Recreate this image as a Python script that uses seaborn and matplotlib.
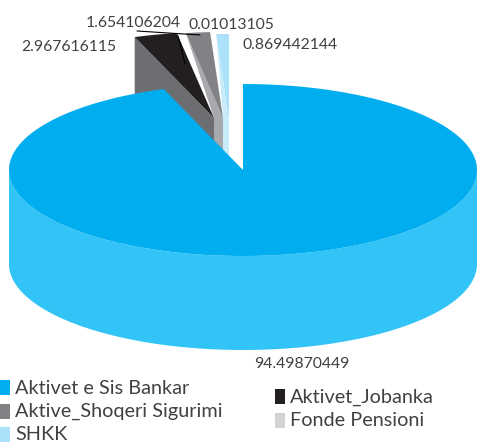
import numpy as np
import matplotlib.pyplot as plt
from matplotlib.patches import Polygon
import seaborn as sns

# Vlerat e grafikut
names = ["Aktivet e Sis Bankar", "Aktivet_Jobanka", "Aktive_Shoqeri Sigurimi", "Fonde Pensioni", "SHKK"]
values = [94.49870449, 2.967616115, 1.654106204, 0.01013105, 0.869442144]
value_labels = ["94.49870449", "2.967616115", "1.654106204", "0.01013105", "0.869442144"]

top_colors = ["#00aeef", "#231f20", "#808285", "#d1d3d4", "#abe1fa"]
wall_colors = ["#33c4f7", "#6d6e71", "#a7a9ac", "#a7a9ac", "#c9ecfb"]

# Gjeometria e pies 3D
cx, cy = 243, 170
rx, ry = 234, 86
depth = 94
offsets = [(0, 0), (-29, -52), (-20, -52), (-20, -52), (-14, -50)]

sns.set_theme(style="white")
plt.rcParams["font.family"] = ["Lato", "DejaVu Sans"]

fig, ax = plt.subplots(figsize=(4.78, 4.43), dpi=100)
ax.set_position([0, 0, 1, 1])
ax.set_xlim(0, 478)
ax.set_ylim(443, 0)
ax.axis("off")


def arc(a0, a1, dx=0, dy=0):
    # kendet ne grade, 0 = ora 12, ne drejtim te akrepave
    t = np.radians(np.linspace(a0, a1, max(int(abs(a1 - a0) * 2), 2)))
    return np.column_stack([cx + dx + rx * np.sin(t), cy + dy - ry * np.cos(t)])


edges = np.concatenate([[0], np.cumsum(values) / np.sum(values) * 360])

# Fetat e vogla, nga e djathta ne te majte
prev_apex = {2: (cx + offsets[1][0], cy + offsets[1][1]),
             4: (cx + offsets[2][0], cy + offsets[2][1])}
for i in [4, 3, 2, 1]:
    dx, dy = offsets[i]
    pts = arc(edges[i], edges[i + 1], dx, dy)
    apex = np.array([cx + dx, cy + dy])
    if i in prev_apex:
        pa = np.array(prev_apex[i])
        wall = [pts[0], apex, apex + [0, depth], pa + [0, depth], pa]
    else:
        wall = [pts[0], apex, apex + [0, depth], pts[0] + [0, depth]]
    if i != 3:
        ax.add_patch(Polygon(wall, closed=True, fc=wall_colors[i], ec="none", zorder=2))
    ax.add_patch(Polygon(np.vstack([apex, pts]), closed=True, fc=top_colors[i], ec="none", zorder=3))

# Feta kryesore: muri dhe siperfaqja
front = arc(90, 270)
ax.add_patch(Polygon(np.vstack([front, (front + [0, depth])[::-1]]), closed=True,
                     fc=wall_colors[0], ec="none", zorder=4))
main_top = np.vstack([[cx, cy], arc(edges[0], edges[1])])
ax.add_patch(Polygon(main_top, closed=True, fc=top_colors[0], ec="none", zorder=5))

# Vijat udhezuese
ax.plot([137, 200], [31, 35], color="black", lw=0.8, zorder=6)
ax.plot([178, 185], [36, 64], color="black", lw=0.8, zorder=6)

# Etiketat e vlerave
label_pos = [(302, 364), (69, 47), (133, 23), (231, 25), (290, 45)]
for txt, (x, y) in zip(value_labels, label_pos):
    ax.text(x, y, txt, ha="center", va="center", fontsize=11.3, color="#414042", zorder=7)

# Legjenda me dy kolona
left = [0, 2, 4]
right = [1, 3]
for idx, x0, y0 in [(left, 0, 388), (right, 275, 397)]:
    for k, i in enumerate(idx):
        y = y0 + k * 23.5
        ax.add_patch(Polygon([(x0, y - 8), (x0 + 10, y - 8), (x0 + 10, y + 7), (x0, y + 7)],
                             closed=True, fc=top_colors[i], ec="none"))
        ax.text(x0 + 15, y, names[i], ha="left", va="center", fontsize=14.3, color="#414042")

fig.savefig("out.png", dpi=100)
